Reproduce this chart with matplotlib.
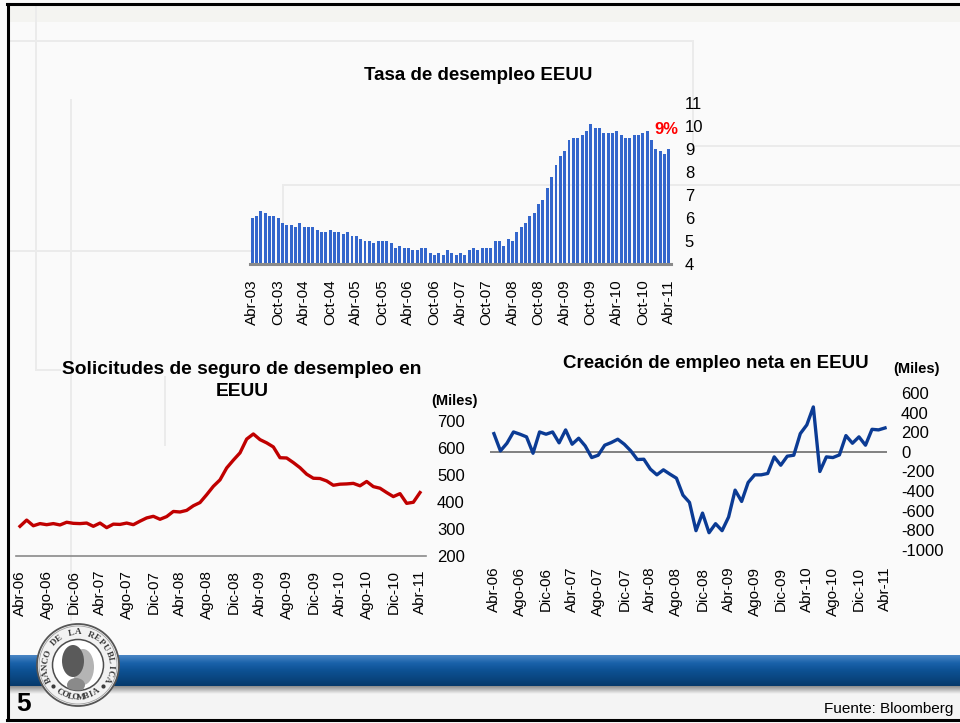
import numpy as np
import matplotlib
matplotlib.use('Agg')
import matplotlib.pyplot as plt
from matplotlib.patches import Circle, Ellipse, Rectangle
from matplotlib.lines import Line2D
from matplotlib.colors import LinearSegmentedColormap

plt.rcParams['font.family'] = ['Liberation Sans', 'DejaVu Sans']
plt.rcParams['axes.unicode_minus'] = False

# Tasa de desempleo EEUU (%), mensual Abr-03 .. Abr-11
desempleo = [6.0, 6.1, 6.3, 6.2, 6.1, 6.1, 6.0, 5.8, 5.7,
             5.7, 5.6, 5.8, 5.6, 5.6, 5.6, 5.5, 5.4, 5.4, 5.5, 5.4, 5.4,
             5.3, 5.4, 5.2, 5.2, 5.1, 5.0, 5.0, 4.9, 5.0, 5.0, 5.0, 4.9,
             4.7, 4.8, 4.7, 4.7, 4.6, 4.6, 4.7, 4.7, 4.5, 4.4, 4.5, 4.4,
             4.6, 4.5, 4.4, 4.5, 4.4, 4.6, 4.7, 4.6, 4.7, 4.7, 4.7, 5.0,
             5.0, 4.8, 5.1, 5.0, 5.4, 5.6, 5.8, 6.1, 6.2, 6.6, 6.8, 7.3,
             7.8, 8.3, 8.7, 8.9, 9.4, 9.5, 9.5, 9.6, 9.8, 10.1, 9.9, 9.9,
             9.7, 9.7, 9.7, 9.8, 9.6, 9.5, 9.5, 9.6, 9.6, 9.7, 9.8, 9.4,
             9.0, 8.9, 8.8, 9.0]
desempleo_ticks = ['Abr-03', 'Oct-03', 'Abr-04', 'Oct-04', 'Abr-05', 'Oct-05',
                   'Abr-06', 'Oct-06', 'Abr-07', 'Oct-07', 'Abr-08', 'Oct-08',
                   'Abr-09', 'Oct-09', 'Abr-10', 'Oct-10', 'Abr-11']

# Solicitudes de seguro de desempleo (miles), mensual Abr-06 .. Abr-11
solicitudes = [310, 333, 312, 320, 316, 320, 315, 325, 321, 320,
               322, 310, 322, 305, 318, 317, 322, 316, 329, 341,
               347, 336, 346, 365, 363, 369, 386, 398, 427, 458,
               482, 526, 555, 582, 633, 652, 631, 619, 604, 564,
               563, 546, 527, 503, 488, 487, 478, 462, 466, 467,
               469, 460, 476, 457, 451, 435, 420, 431, 395, 399, 435]

# Creacion de empleo neta (miles), mensual Abr-06 .. Abr-11
empleo = [186, 10, 88, 203, 180, 153, -14, 203, 180, 203,
          92, 224, 78, 139, 61, -58, -34, 68, 95, 129,
          78, 10, -78, -75, -176, -234, -183, -227, -268, -441,
          -515, -803, -624, -824, -732, -803, -664, -390, -505, -312,
          -234, -234, -220, -51, -136, -44, -34, 186, 275, 458,
          -200, -51, -58, -31, 166, 88, 153, 68, 230, 224, 244]

meses_ticks = ['Abr-06', 'Ago-06', 'Dic-06', 'Abr-07', 'Ago-07', 'Dic-07',
               'Abr-08', 'Ago-08', 'Dic-08', 'Abr-09', 'Ago-09', 'Dic-09',
               'Abr-10', 'Ago-10', 'Dic-10', 'Abr-11']

W, H = 960, 723
fig = plt.figure(figsize=(9.6, 7.23), dpi=100, facecolor='#fafafa')


def px_axes(x0, y0, x1, y1):
    # axes placed with pixel coordinates measured from the top-left corner
    return fig.add_axes([x0 / W, 1 - y1 / H, (x1 - x0) / W, (y1 - y0) / H])


def px_line(xs, ys, **kw):
    fig.add_artist(Line2D([x / W for x in xs], [1 - y / H for y in ys], **kw))


def px_text(x, y, s, **kw):
    fig.text(x / W, 1 - y / H, s, **kw)


# faint background decoration
fig.add_artist(Rectangle((8 / W, 1 - 22 / H), 1, 18 / H, transform=fig.transFigure,
                         fc='#f4f4f1', ec='none', zorder=-3))
deco = dict(color='#ebebeb', lw=1.4, zorder=-1)
px_line([8, 693], [41, 41], **deco)
px_line([693, 693], [41, 146], **deco)
px_line([693, 960], [146, 146], **deco)
px_line([283, 960], [185, 185], **deco)
px_line([283, 283], [185, 250], **deco)
px_line([8, 250], [251, 251], **deco)
px_line([36, 36], [4, 370], **deco)
px_line([36, 60], [370, 370], **deco)
px_line([71, 71], [100, 620], **deco)
px_line([165, 165], [377, 445], **deco)

# --- Tasa de desempleo EEUU ---
ax1 = px_axes(250, 103, 671, 264)
ax1.set_facecolor('none')
x1 = np.arange(len(desempleo))
ax1.bar(x1, desempleo, width=0.68, color='#3366cc')
ax1.set_xlim(-0.5, len(desempleo) - 0.5)
ax1.set_ylim(4, 11)
ax1.set_yticks(range(4, 12))
ax1.yaxis.tick_right()
ax1.set_xticks(x1[::6])
ax1.set_xticklabels(desempleo_ticks, rotation=90)
ax1.tick_params(axis='y', length=0, pad=10, labelsize=12)
ax1.tick_params(axis='x', length=0, pad=11, labelsize=11)
for s in ['top', 'left', 'right']:
    ax1.spines[s].set_visible(False)
ax1.spines['bottom'].set_color('#8a8a8a')
ax1.spines['bottom'].set_linewidth(2.2)
px_text(478, 75, 'Tasa de desempleo EEUU', ha='center', va='center',
        fontsize=13.5, fontweight='bold')
px_text(666, 129, '9%', ha='center', va='center', fontsize=12,
        fontweight='bold', color='#ff0000')

# --- Solicitudes de seguro de desempleo ---
ax2 = px_axes(16, 421, 426, 556)
ax2.set_facecolor('none')
x2 = np.arange(len(solicitudes))
ax2.plot(x2, solicitudes, color='#c00000', lw=2.4, solid_joinstyle='round')
ax2.set_xlim(-0.6, 60.9)
ax2.set_ylim(200, 700)
ax2.set_yticks(range(200, 701, 100))
ax2.yaxis.tick_right()
ax2.set_xticks(x2[::4])
ax2.set_xticklabels(meses_ticks, rotation=90)
ax2.tick_params(axis='y', length=0, pad=8, labelsize=12)
ax2.tick_params(axis='x', length=0, pad=10, labelsize=11)
for s in ['top', 'left', 'right']:
    ax2.spines[s].set_visible(False)
ax2.spines['bottom'].set_color('#8a8a8a')
ax2.spines['bottom'].set_linewidth(1.2)
px_text(242, 370, 'Solicitudes de seguro de desempleo en', ha='center',
        va='center', fontsize=13.8, fontweight='bold')
px_text(242, 392, 'EEUU', ha='center', va='center', fontsize=13.8,
        fontweight='bold')
px_text(454, 401, '(Miles)', ha='center', va='center', fontsize=10.5,
        fontweight='bold')

# --- Creacion de empleo neta ---
ax3 = px_axes(490, 393, 887, 550)
ax3.set_facecolor('none')
x3 = np.arange(len(empleo))
ax3.axhline(0, color='#808080', lw=1.4)
ax3.plot(x3, empleo, color='#0b3b94', lw=2.4, solid_joinstyle='round')
ax3.set_xlim(-0.6, 60.3)
ax3.set_ylim(-1000, 600)
ax3.set_yticks(range(-1000, 601, 200))
ax3.yaxis.tick_right()
ax3.set_xticks(x3[::4])
ax3.set_xticklabels(meses_ticks, rotation=90)
ax3.tick_params(axis='y', length=0, pad=10, labelsize=12)
ax3.tick_params(axis='x', length=0, pad=12, labelsize=11)
for s in ax3.spines.values():
    s.set_visible(False)
px_text(716, 363, 'Creación de empleo neta en EEUU', ha='center',
        va='center', fontsize=13.5, fontweight='bold')
px_text(916, 369, '(Miles)', ha='center', va='center', fontsize=10.5,
        fontweight='bold')

# --- footer band ---
fig.add_artist(Rectangle((8 / W, 1 - 720 / H), 1, 35 / H, transform=fig.transFigure,
                         fc='#f4f4f4', ec='none', zorder=-2))
axb = px_axes(8, 655, 960, 686)
band = LinearSegmentedColormap.from_list('band', ['#4a86c4', '#1a62aa', '#0d5193',
                                                  '#0a4680', '#073a6b'])
axb.imshow(np.linspace(0, 1, 60).reshape(-1, 1), aspect='auto', cmap=band,
           extent=[0, 1, 1, 0])
axb.axis('off')
axs = px_axes(8, 686, 960, 694)
shade = LinearSegmentedColormap.from_list('shade', ['#8c8c8c', '#f4f4f4'])
axs.imshow(np.linspace(0, 1, 30).reshape(-1, 1), aspect='auto', cmap=shade,
           extent=[0, 1, 1, 0])
axs.axis('off')

# seal
axl = px_axes(35, 622, 121, 708)
axl.set_xlim(-43, 43)
axl.set_ylim(-43, 43)
axl.axis('off')
axl.add_patch(Circle((0, 0), 41, fc='#f2f2f2', ec='#555555', lw=1.3))
axl.add_patch(Circle((0, 0), 39, fill=False, ec='#a0a0a0', lw=0.6))
inner = Circle((0, 0), 25.5, fc='white', ec='#4d4d4d', lw=1.1)
axl.add_patch(inner)
face = Ellipse((5, -2), 22, 36, fc='#b4b4b4', ec='none')
axl.add_patch(face)
face.set_clip_path(inner)
hair = Ellipse((-5, 4), 22, 32, fc='#5a5a5a', ec='none')
axl.add_patch(hair)
hair.set_clip_path(inner)
neck = Ellipse((-2, -20), 18, 14, fc='#8a8a8a', ec='none')
axl.add_patch(neck)
neck.set_clip_path(inner)
top_txt = 'BANCO DE LA REPUBLICA'
for i, ch in enumerate(top_txt):
    a = np.deg2rad(206 - i * 232 / (len(top_txt) - 1))
    axl.text(32.5 * np.cos(a), 32.5 * np.sin(a), ch, ha='center', va='center',
             rotation=np.rad2deg(a) - 90, fontsize=6.5, fontweight='bold',
             family='Liberation Serif', color='#3a3a3a')
bot_txt = 'COLOMBIA'
for i, ch in enumerate(bot_txt):
    a = np.deg2rad(236 + i * 68 / (len(bot_txt) - 1))
    axl.text(32.5 * np.cos(a), 32.5 * np.sin(a), ch, ha='center', va='center',
             rotation=np.rad2deg(a) + 90, fontsize=6.5, fontweight='bold',
             family='Liberation Serif', color='#3a3a3a')
for deg in [220, 320]:
    a = np.deg2rad(deg)
    axl.plot(32.5 * np.cos(a), 32.5 * np.sin(a), 'o', ms=2, color='#3a3a3a')

px_text(24, 704, '5', ha='center', va='center', fontsize=19, fontweight='bold')
px_text(953, 709, 'Fuente: Bloomberg', ha='right', va='center', fontsize=11)

# slide frame
frame = dict(color='black', lw=2.2, zorder=10)
px_line([7.5, 7.5], [4, 720], **frame)
px_line([7, 960], [4, 4], **frame)
px_line([7, 960], [720, 720], **frame)

fig.savefig('out.png', dpi=100, facecolor=fig.get_facecolor())
